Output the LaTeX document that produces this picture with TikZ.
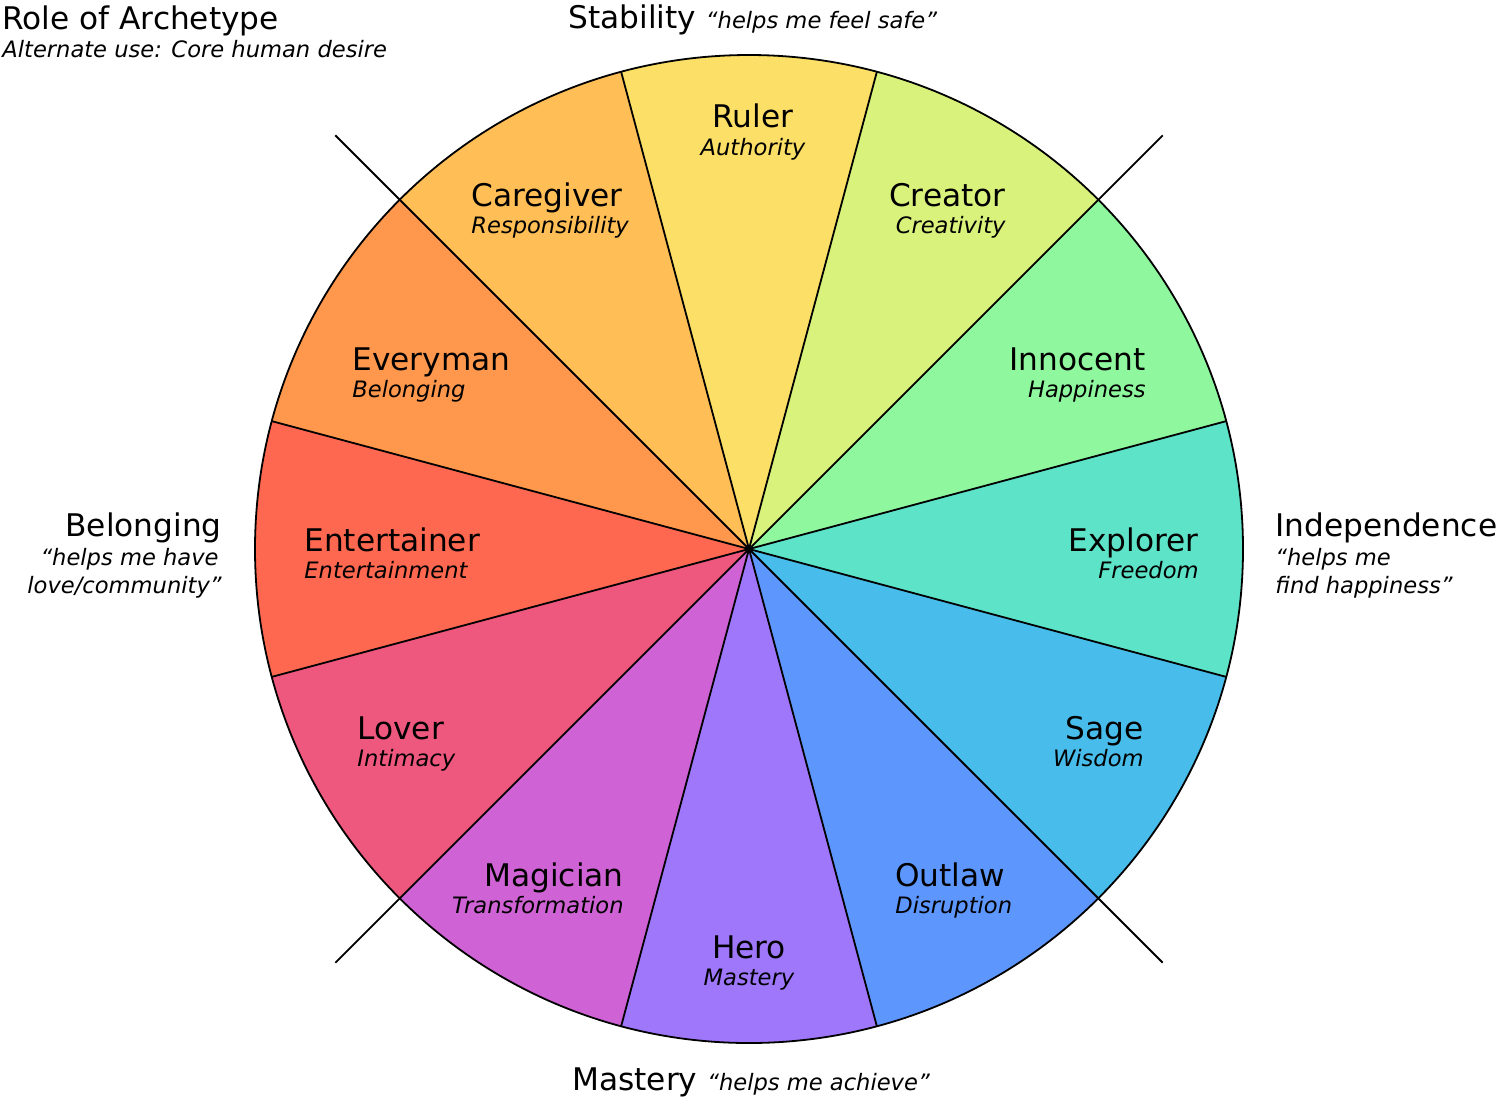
\documentclass[tikz,border=0pt]{standalone}
\usepackage{fontspec}
\setmainfont{DejaVu Sans}
\usetikzlibrary{calc}
\definecolor{cRuler}{HTML}{FCDF66}
\definecolor{cCreator}{HTML}{D9F27B}
\definecolor{cInnocent}{HTML}{8FF89E}
\definecolor{cExplorer}{HTML}{5DE3C8}
\definecolor{cSage}{HTML}{48BDEB}
\definecolor{cOutlaw}{HTML}{5D97FE}
\definecolor{cHero}{HTML}{9E77FB}
\definecolor{cMagician}{HTML}{CF62D4}
\definecolor{cLover}{HTML}{EE577E}
\definecolor{cEntertainer}{HTML}{FF6850}
\definecolor{cEveryman}{HTML}{FF984D}
\definecolor{cCaregiver}{HTML}{FFBF56}
\tikzset{
  ttl/.style={inner sep=0pt, font=\fontsize{15.6pt}{18pt}\selectfont},
  sub/.style={inner sep=0pt, font=\fontsize{11.3pt}{14pt}\selectfont\itshape},
  seg/.style={line width=0.9pt, draw=black},
}
\begin{document}
\begin{tikzpicture}[x=0.5pt,y=-0.5pt]
\useasboundingbox (0,0) rectangle (1500,1100);
\coordinate (C) at (749,549);
\begin{scope}
  \clip (C) circle[radius=494];
  \foreach \a/\c in {-90/cRuler,-60/cCreator,-30/cInnocent,0/cExplorer,30/cSage,60/cOutlaw,90/cHero,120/cMagician,150/cLover,180/cEntertainer,210/cEveryman,240/cCaregiver}{
    \fill[\c] (C) -- ($(C)+(\a-15:700)$) -- ($(C)+(\a:730)$) -- ($(C)+(\a+15:700)$) -- cycle;
  }
\end{scope}
\foreach \a in {15,75,105,165,195,255,285,345}
  \draw[seg] (C) -- ($(C)+(\a:494)$);
\foreach \a in {45,135,225,315}
  \draw[seg] (C) -- ($(C)+(\a:585)$);
\draw[seg] (C) circle[radius=494];

% sector labels
\node[ttl, anchor=base] (ruler) at (753,127) {Ruler};
\node[sub, anchor=base] (rulerS) at (753,155) {Authority};
\node[ttl, anchor=base west] (caregiver) at (471,206) {Caregiver};
\node[sub, anchor=base west] (caregiverS) at (471,233) {Responsibility};
\node[ttl, anchor=base east] (creator) at (1006,206) {Creator};
\node[sub, anchor=base east] (creatorS) at (1006,233) {Creativity};
\node[ttl, anchor=base west] (everyman) at (352,370) {Everyman};
\node[sub, anchor=base west] (everymanS) at (352,397) {Belonging};
\node[ttl, anchor=base east] (innocent) at (1146,370) {Innocent};
\node[sub, anchor=base east] (innocentS) at (1146,397) {Happiness};
\node[ttl, anchor=base west] (entertainer) at (304,551) {Entertainer};
\node[sub, anchor=base west] (entertainerS) at (304,578) {Entertainment};
\node[ttl, anchor=base east] (explorer) at (1199,551) {Explorer};
\node[sub, anchor=base east] (explorerS) at (1199,578) {Freedom};
\node[ttl, anchor=base west] (lover) at (357,739) {Lover};
\node[sub, anchor=base west] (loverS) at (357,766) {Intimacy};
\node[ttl, anchor=base east] (sage) at (1144,739) {Sage};
\node[sub, anchor=base east] (sageS) at (1144,766) {Wisdom};
\node[ttl, anchor=base east] (magician) at (624,886) {Magician};
\node[sub, anchor=base east] (magicianS) at (624,913) {Transformation};
\node[ttl, anchor=base west] (outlaw) at (895,886) {Outlaw};
\node[sub, anchor=base west] (outlawS) at (895,913) {Disruption};
\node[ttl, anchor=base] (hero) at (749,958) {Hero};
\node[sub, anchor=base] (heroS) at (749,985) {Mastery};

% outer labels
\node[ttl, anchor=base west] (role) at (2,29) {Role of Archetype};
\node[sub, anchor=base west] (roleS) at (2,57) {Alternate use: Core human desire};
\node[ttl, anchor=base west] (stability) at (568,28) {Stability {\fontsize{11.3pt}{14pt}\selectfont\itshape “helps me feel safe”}};
\node[ttl, anchor=base west] (mastery) at (572,1090) {Mastery {\fontsize{11.3pt}{14pt}\selectfont\itshape “helps me achieve”}};
\node[ttl, anchor=base east] (belonging) at (222,536) {Belonging};
\node[sub, anchor=base east] (belongingA) at (219,565) {“helps me have};
\node[sub, anchor=base east] (belongingB) at (222,593) {love/community”};
\node[ttl, anchor=base west] (independence) at (1275,536) {Independence};
\node[sub, anchor=base west] (independenceA) at (1275,565) {“helps me};
\node[sub, anchor=base west] (independenceB) at (1275,593) {find happiness”};
\end{tikzpicture}
\end{document}
